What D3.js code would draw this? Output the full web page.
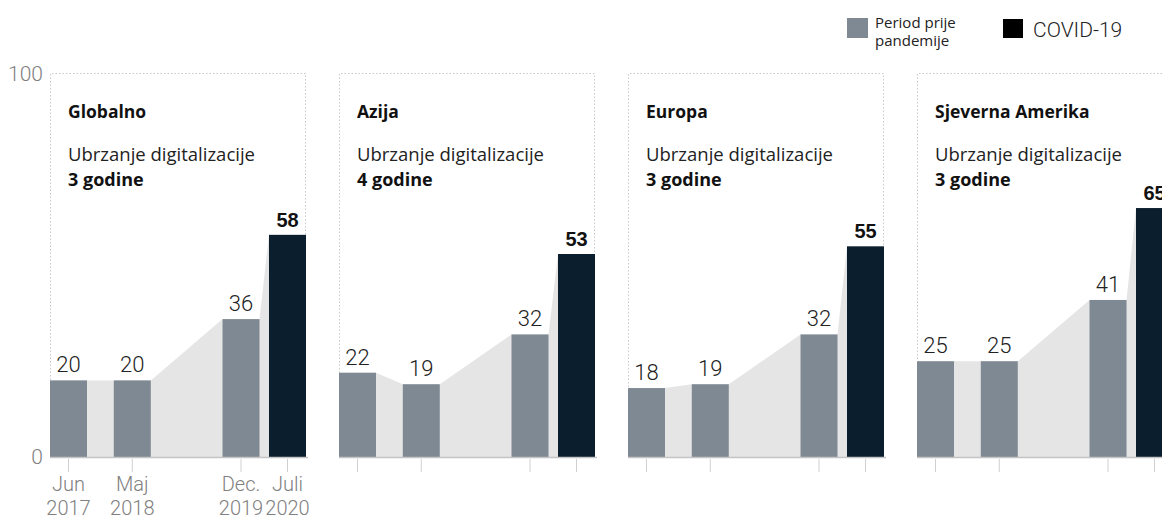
<!DOCTYPE html>
<html>
<head>
<meta charset="utf-8">
<script src="https://cdn.jsdelivr.net/npm/d3@7"></script>
<style>
  html, body { margin: 0; padding: 0; background: #fff; }
  svg { display: block; }
</style>
</head>
<body>
<svg id="chart" width="1162" height="520"></svg>
<script>
// ---------------- DATA ----------------
const regions = ["Globalno", "Azija", "Europa", "Sjeverna Amerika"];
const acceleration = ["3 godine", "4 godine", "3 godine", "3 godine"];
const subtitle = "Ubrzanje digitalizacije";
// survey dates (as placed along the time axis in the picture)
const periodDates = ["2017-06-01", "2018-04-25", "2019-11-05", "2020-07-01"];
const periodLabelMonth = ["Jun", "Maj", "Dec.", "Juli"];
const periodLabelYear = ["2017", "2018", "2019", "2020"];
const periodIsCovid = [false, false, false, true];
const valuesGlobalno = [20, 20, 36, 58];
const valuesAzija = [22, 19, 32, 53];
const valuesEuropa = [18, 19, 32, 55];
const valuesSjevernaAmerika = [25, 25, 41, 65];
const yTickValues = [0, 100];
const legendPre = ["Period prije", "pandemije"];
const legendCovid = "COVID-19";

const allValues = [valuesGlobalno, valuesAzija, valuesEuropa, valuesSjevernaAmerika];

// ---------------- STYLE / LAYOUT ----------------
const W = 1162, H = 520;
const barW = 37;
const colPre = "#7f8993", colCovid = "#0b1e2d", colArea = "#e5e5e5";
const numFont = "Roboto, 'Liberation Sans', Arial, sans-serif";
const txtFont = "'Open Sans', 'Noto Sans', sans-serif";

const svg = d3.select("#chart");
const parse = d3.timeParse("%Y-%m-%d");
const dates = periodDates.map(parse);

const y = d3.scaleLinear().domain([0, 100]).range([457, 74]);
const panel = d3.scaleBand().domain(regions).range([50, 1173]).paddingInner(33 / 289).paddingOuter(0);
const bw = panel.bandwidth();
const x = d3.scaleTime().domain([dates[0], dates[dates.length - 1]]).range([barW / 2, bw - barW / 2]);

// y-axis labels
svg.append("g").selectAll("text").data(yTickValues).join("text")
  .attr("x", 43).attr("y", d => y(d)).attr("dy", "0.35em")
  .attr("text-anchor", "end")
  .style("font-family", numFont).style("font-weight", 300)
  .style("font-size", "21px").attr("fill", "#808080")
  .text(d => d);

regions.forEach((reg, ri) => {
  const vals = allValues[ri];
  const g = svg.append("g").attr("transform", `translate(${panel(reg)},0)`);
  const rows = vals.map((v, i) => ({ v, d: dates[i], covid: periodIsCovid[i], i }));

  // dotted frame
  g.append("path")
    .attr("d", `M0.5,${y(0)}V${y(100) - 0.5}H${bw - 0.5}V${y(0)}`)
    .attr("fill", "none").attr("stroke", "#c9c9c9")
    .attr("stroke-width", 1).attr("stroke-dasharray", "1.5,2");

  // connecting area
  const pts = [];
  rows.forEach(r => {
    pts.push([x(r.d) - barW / 2, y(r.v)]);
    pts.push([x(r.d) + barW / 2, y(r.v)]);
  });
  const area = d3.area().x(p => p[0]).y0(y(0)).y1(p => p[1]);
  g.append("path").attr("d", area(pts)).attr("fill", colArea);

  // bars
  g.selectAll("rect.bar").data(rows).join("rect")
    .attr("class", "bar")
    .attr("x", r => x(r.d) - barW / 2).attr("width", barW)
    .attr("y", r => y(r.v)).attr("height", r => y(0) - y(r.v))
    .attr("fill", r => r.covid ? colCovid : colPre);

  // baseline
  g.append("line").attr("x1", 0).attr("x2", bw + 2)
    .attr("y1", y(0) + 0.5).attr("y2", y(0) + 0.5)
    .attr("stroke", "#c4c4c4").attr("stroke-width", 1.5);

  // ticks
  g.selectAll("line.tick").data(rows).join("line")
    .attr("class", "tick")
    .attr("x1", r => x(r.d)).attr("x2", r => x(r.d))
    .attr("y1", y(0) + 2).attr("y2", y(0) + 15)
    .attr("stroke", "#d0d0d0").attr("stroke-width", 1);

  // value labels
  g.selectAll("text.val").data(rows).join("text")
    .attr("class", "val")
    .attr("x", r => x(r.d)).attr("y", r => y(r.v) - 8)
    .attr("text-anchor", "middle")
    .style("font-family", r => r.covid ? "'Liberation Sans', Arial, sans-serif" : numFont)
    .style("font-weight", r => r.covid ? 700 : 300)
    .style("font-size", r => r.covid ? "20px" : "22px")
    .attr("fill", r => r.covid ? "#111" : "#222")
    .text(r => r.v);

  // titles
  g.append("text").attr("x", 18).attr("y", 118)
    .style("font-family", txtFont).style("font-weight", 700).style("font-size", "17.5px")
    .attr("fill", "#111").text(reg);
  g.append("text").attr("x", 18).attr("y", 161)
    .style("font-family", txtFont).style("font-weight", 400).style("font-size", "18.5px")
    .attr("fill", "#222").text(subtitle);
  g.append("text").attr("x", 18).attr("y", 186)
    .style("font-family", txtFont).style("font-weight", 700).style("font-size", "18px")
    .attr("fill", "#111").text(acceleration[ri]);

  // x labels only on first panel
  if (ri === 0) {
    const xl = g.selectAll("g.xl").data(rows).join("g").attr("class", "xl");
    xl.append("text").attr("x", r => x(r.d)).attr("y", 491)
      .attr("text-anchor", "middle")
      .style("font-family", numFont).style("font-weight", 300).style("font-size", "20px")
      .attr("fill", "#808080").text(r => periodLabelMonth[r.i]);
    xl.append("text").attr("x", r => x(r.d)).attr("y", 515)
      .attr("text-anchor", "middle")
      .style("font-family", numFont).style("font-weight", 300).style("font-size", "20px")
      .attr("fill", "#808080").text(r => periodLabelYear[r.i]);
  }
});

// legend
const lg = svg.append("g");
lg.append("rect").attr("x", 847).attr("y", 18).attr("width", 21).attr("height", 20).attr("fill", colPre);
lg.append("text").attr("x", 875).attr("y", 28)
  .style("font-family", txtFont).style("font-size", "15px").attr("fill", "#222")
  .selectAll("tspan").data(legendPre).join("tspan")
  .attr("x", 875).attr("dy", (d, i) => i === 0 ? 0 : 18).text(d => d);
lg.append("rect").attr("x", 1003).attr("y", 19).attr("width", 20).attr("height", 19).attr("fill", "#000");
lg.append("text").attr("x", 1033).attr("y", 37)
  .style("font-family", numFont).style("font-weight", 300).style("font-size", "21px")
  .attr("fill", "#222").text(legendCovid);
</script>
</body>
</html>
